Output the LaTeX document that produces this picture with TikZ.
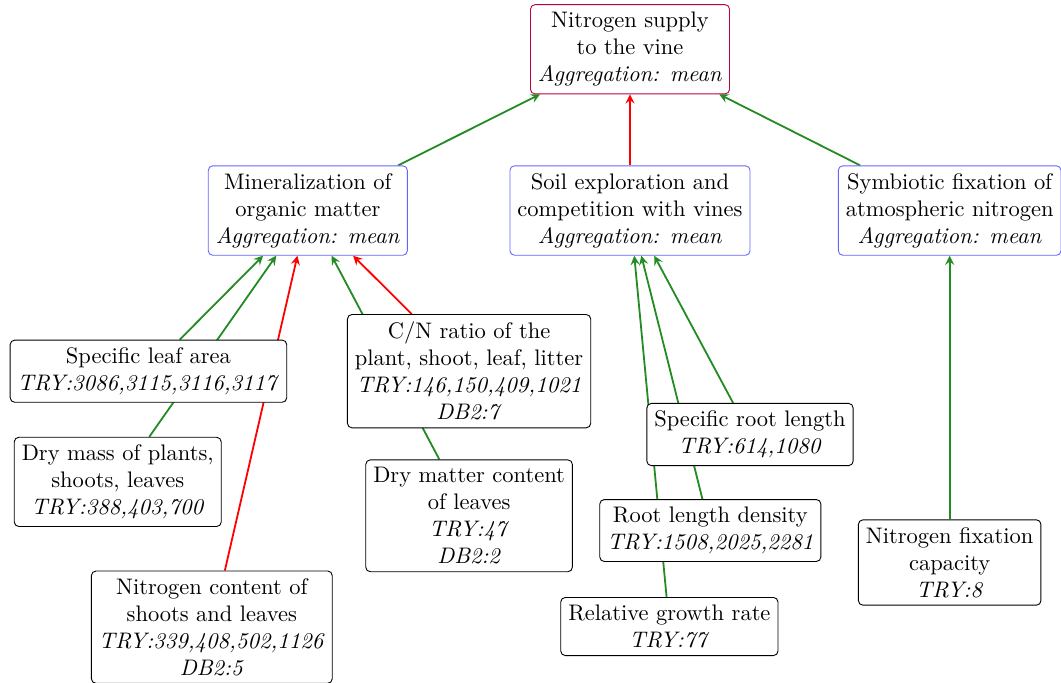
\documentclass[tikz,border=0pt]{standalone}
\usetikzlibrary{arrows,backgrounds}
\definecolor{posgreen}{RGB}{34,139,34}

\begin{document}
\begin{tikzpicture}[auto, >=stealth, thick,
    box node/.style={rectangle,thin,rounded corners=2pt,fill=white,align=center},
    top node/.style={box node,draw=purple},
    agg node/.style={box node,draw=blue!60},
    main node/.style={box node,draw=black},
    green edge/.style={draw=posgreen,thick,->},
    red edge/.style={draw=red,thick,->}]

  \useasboundingbox (0,0) rectangle (16.58,-10.67);

  \node[top node] (1) at (9.845,-0.77) {Nitrogen supply\\to the vine\\\textit{Aggregation: mean}};

  \node[agg node] (2) at (4.81,-3.29) {Mineralization of\\organic matter\\\textit{Aggregation: mean}};
  \node[agg node] (3) at (9.845,-3.29) {Soil exploration and\\competition with vines\\\textit{Aggregation: mean}};
  \node[agg node] (4) at (14.84,-3.29) {Symbiotic fixation of\\atmospheric nitrogen\\\textit{Aggregation: mean}};

  \node[main node] (5) at (2.32,-5.80) {Specific leaf area\\\textit{TRY:3086,3115,3116,3117}};
  \node[main node] (6) at (1.84,-7.53) {Dry mass of plants,\\shoots, leaves\\\textit{TRY:388,403,700}};
  \node[main node] (7) at (3.31,-9.80) {Nitrogen content of\\shoots and leaves\\\textit{TRY:339,408,502,1126}\\\textit{DB2:5}};
  \node[main node] (8) at (7.33,-5.80) {C/N ratio of the\\plant, shoot, leaf, litter\\\textit{TRY:146,150,409,1021}\\\textit{DB2:7}};
  \node[main node] (9) at (7.33,-8.06) {Dry matter content\\of leaves\\\textit{TRY:47}\\\textit{DB2:2}};

  \node[main node] (10) at (11.72,-6.79) {Specific root length\\\textit{TRY:614,1080}};
  \node[main node] (11) at (11.10,-8.29) {Root length density\\\textit{TRY:1508,2025,2281}};
  \node[main node] (12) at (10.46,-9.79) {Relative growth rate\\\textit{TRY:77}};

  \node[main node] (13) at (14.84,-8.79) {Nitrogen fixation\\capacity\\\textit{TRY:8}};

  \begin{scope}[on background layer]
  \path
    (2) edge[green edge] (1)
    (3) edge[red edge] (1)
    (4) edge[green edge] (1)
    (5) edge[green edge] (2)
    (6) edge[green edge] (2)
    (7) edge[red edge] (2)
    (8) edge[red edge] (2)
    (9) edge[green edge] (2)
    (10) edge[green edge] (3)
    (11) edge[green edge] (3)
    (12) edge[green edge] (3)
    (13) edge[green edge] (4);
  \end{scope}
\end{tikzpicture}
\end{document}
